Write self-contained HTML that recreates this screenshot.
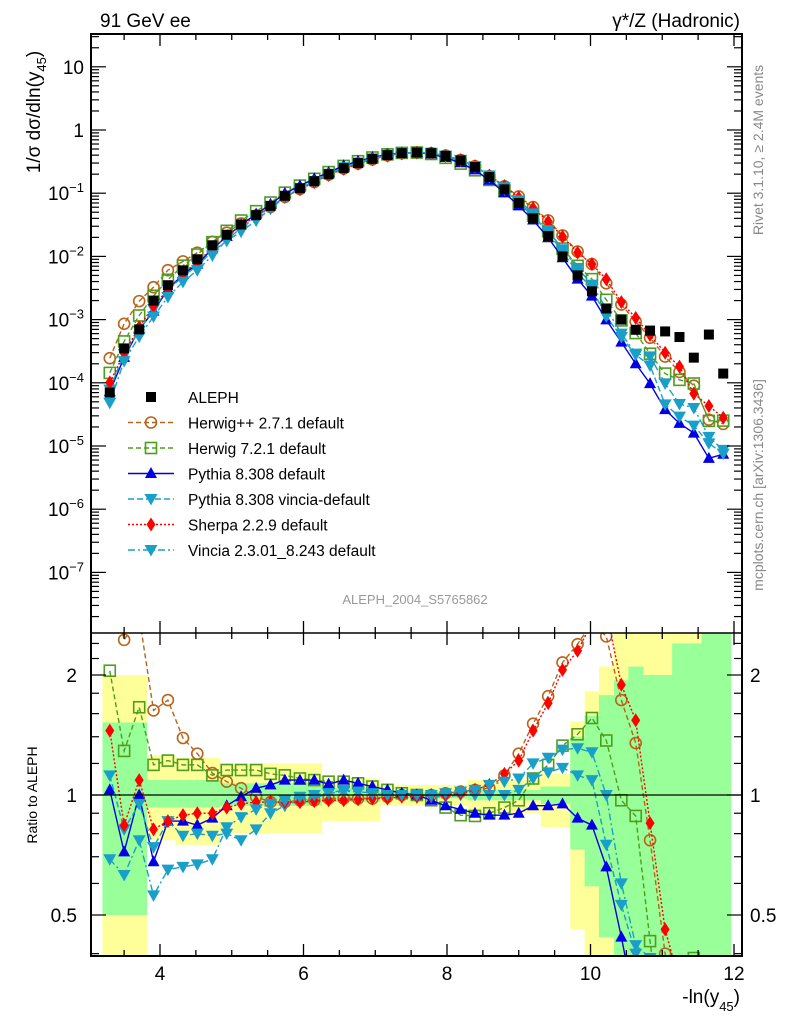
<!DOCTYPE html>
<html><head><meta charset="utf-8"><style>
html,body{margin:0;padding:0;background:#fff;width:786px;height:1024px;overflow:hidden;}
svg{display:block;font-family:"Liberation Sans",sans-serif;}
</style></head><body>
<svg id="c" width="786" height="1024" viewBox="0 0 786 1024" xmlns="http://www.w3.org/2000/svg">
<defs>
<clipPath id="clipTop"><rect x="91" y="34" width="651" height="599"/></clipPath>
<clipPath id="clipBot"><rect x="91" y="633" width="651" height="323"/></clipPath>
</defs>
<g id="bands" clip-path="url(#clipBot)"></g>
<g id="topSeries" clip-path="url(#clipTop)"></g>
<g id="botSeries" clip-path="url(#clipBot)"></g>
<g id="axes"></g>
<text x="100" y="27" font-size="19">91 GeV ee</text>
<text x="740" y="27" font-size="19" text-anchor="end">γ*/Z (Hadronic)</text>
<text transform="translate(763,150) rotate(-90)" font-size="14" fill="#888" text-anchor="middle">Rivet 3.1.10, ≥ 2.4M events</text>
<text transform="translate(763,485) rotate(-90)" font-size="14" fill="#888" text-anchor="middle">mcplots.cern.ch [arXiv:1306.3436]</text>
<text transform="translate(40,112) rotate(-90)" font-size="19" text-anchor="middle">1/σ  dσ/dln(y<tspan font-size="13" dy="6">45</tspan><tspan dy="-6">)</tspan></text>
<text transform="translate(37,795) rotate(-90)" font-size="14" text-anchor="middle">Ratio to ALEPH</text>
<text x="415" y="604" font-size="13" fill="#999" text-anchor="middle">ALEPH_2004_S5765862</text>
<text x="740" y="1003" font-size="19" text-anchor="end">-ln(y<tspan font-size="13" dy="8">45</tspan><tspan dy="-8">)</tspan></text>
<g id="legend"></g>
</svg>
<script>
const binCenters=[3.30,3.50,3.71,3.91,4.11,4.32,4.52,4.73,4.93,5.13,5.34,5.54,5.74,5.95,6.15,6.35,6.56,6.76,6.96,7.17,7.37,7.58,7.78,7.98,8.19,8.39,8.59,8.80,9.00,9.20,9.41,9.61,9.82,10.02,10.22,10.43,10.63,10.83,11.04,11.24,11.44,11.65,11.85];
const binHalfWidth=0.102;
const alephValues=[7e-5,3.5e-4,7e-4,2.0e-3,3.5e-3,6e-3,9e-3,1.5e-2,2.2e-2,3.2e-2,4.5e-2,6.3e-2,9.1e-2,0.12,0.155,0.2,0.25,0.3,0.35,0.4,0.43,0.44,0.43,0.39,0.33,0.26,0.18,0.115,0.07,0.04,0.021,0.01,5e-3,2.8e-3,1.5e-3,1e-3,6.9e-4,6.7e-4,6.5e-4,5.3e-4,2.5e-4,5.8e-4,1.4e-4];
const ratioHerwigPP=[3.5,2.45,2.8,1.63,1.73,1.39,1.27,1.135,1.08,1.04,0.99,0.96,0.96,0.97,0.97,0.98,0.98,0.98,0.98,0.99,1.0,1.0,1.0,1.01,1.02,1.03,1.04,1.12,1.27,1.51,1.77,2.15,2.39,2.7,2.5,1.73,1.35,0.77,0.4,0.28,0.36,0.045,0.16];
const ratioHerwig7=[2.05,1.29,1.66,1.19,1.22,1.19,1.19,1.12,1.155,1.155,1.155,1.13,1.12,1.1,1.09,1.08,1.08,1.07,1.05,1.03,1.01,1.0,0.97,0.93,0.89,0.886,0.9,0.93,0.97,1.1,1.19,1.33,1.42,1.56,1.37,0.97,0.886,0.43,0.215,0.21,0.39,0.043,0.18];
const ratioPythia=[1.03,0.72,1.0,0.68,0.86,0.86,0.84,0.875,0.94,0.99,1.04,1.06,1.09,1.09,1.09,1.065,1.09,1.07,1.05,1.03,1.01,1.0,0.97,0.94,0.92,0.9,0.89,0.89,0.9,0.94,0.94,0.95,0.875,0.84,0.66,0.44,0.29,0.145,0.058,0.043,0.064,0.011,0.053];
const ratioPythiaVincia=[1.12,0.82,0.95,0.74,0.86,0.79,0.80,0.79,0.80,0.77,0.82,0.90,0.94,0.97,0.98,1.01,1.03,1.02,1.01,1.0,1.0,1.0,0.99,0.99,1.0,1.0,1.0,1.0,1.03,1.1,1.14,1.17,1.12,1.09,0.75,0.53,0.4,0.28,0.07,0.055,0.084,0.019,0.054];
const ratioSherpa=[1.45,0.84,1.09,0.82,0.86,0.89,0.9,0.9,0.93,0.95,0.96,0.96,0.96,0.96,0.965,0.97,0.97,0.975,0.98,0.98,0.99,0.99,1.0,1.0,1.01,1.03,1.06,1.13,1.22,1.45,1.7,2.06,2.3,2.7,2.9,1.89,1.54,0.85,0.46,0.34,0.27,0.074,0.2];
const ratioVincia=[0.69,0.63,0.77,0.56,0.65,0.66,0.67,0.69,0.83,0.88,0.92,0.95,0.97,0.99,1.0,1.01,1.02,1.02,1.01,1.0,1.0,1.0,1.0,1.01,1.02,1.03,1.06,1.08,1.1,1.2,1.24,1.3,1.31,1.28,1.0,0.6,0.42,0.39,0.15,0.087,0.16,0.024,0.062];
const yellowHi=[2.0,2.0,2.0,1.26,1.26,1.24,1.24,1.24,1.2,1.2,1.2,1.2,1.2,1.2,1.2,1.1,1.1,1.1,1.1,1.06,1.06,1.06,1.06,1.06,1.06,1.09,1.09,1.09,1.09,1.09,1.13,1.13,1.53,1.82,2.1,3,3,3,3,3,3,3,3];
const yellowLo=[0.3,0.3,0.3,0.77,0.77,0.75,0.75,0.75,0.8,0.8,0.8,0.8,0.8,0.8,0.8,0.86,0.86,0.86,0.86,0.94,0.94,0.94,0.94,0.94,0.94,0.9,0.9,0.9,0.9,0.9,0.83,0.83,0.46,0.3,0.3,0.3,0.3,0.3,0.3,0.3,0.3,0.3,0.3];
const greenHi=[1.52,1.52,1.52,1.09,1.09,1.09,1.09,1.09,1.07,1.07,1.07,1.07,1.07,1.07,1.07,1.04,1.04,1.04,1.04,1.02,1.02,1.02,1.02,1.02,1.02,1.03,1.03,1.03,1.03,1.03,1.05,1.05,1.4,1.58,1.78,1.94,2.1,2.0,2.0,2.4,2.4,3,3];
const greenLo=[0.5,0.5,0.5,0.93,0.93,0.93,0.93,0.93,0.94,0.94,0.94,0.94,0.94,0.94,0.94,0.96,0.96,0.96,0.96,0.98,0.98,0.98,0.98,0.98,0.98,0.97,0.97,0.97,0.97,0.97,0.95,0.95,0.73,0.59,0.44,0.3,0.3,0.3,0.3,0.3,0.3,0.3,0.3];

const NS="http://www.w3.org/2000/svg";
const X0=91,X1=742,TOP0=34,TOP1=633,BOT1=956;
function xs(x){return 160+(x-4)*71.75;}
function yTop(v){return 66.8+(1-Math.log10(v))*63.2;}
function yRat(r){return 795-120*Math.log2(r);}
function mk(tag,attrs,parent){const e=document.createElementNS(NS,tag);for(const k in attrs)e.setAttribute(k,attrs[k]);parent.appendChild(e);return e;}

const bands=document.getElementById('bands');
binCenters.forEach((c,i)=>{
  const xa=xs(c-binHalfWidth),xb=xs(c+binHalfWidth);
  const y1=yRat(yellowHi[i]),y2=yRat(yellowLo[i]);
  const r=mk('rect',{x:xa,y:y1,width:xb-xa+0.6,height:y2-y1,fill:'#ffff99'},bands);
  
  
});
binCenters.forEach((c,i)=>{
  const xa=xs(c-binHalfWidth),xb=xs(c+binHalfWidth);
  const y1=yRat(greenHi[i]),y2=yRat(greenLo[i]);
  const r=mk('rect',{x:xa,y:y1,width:xb-xa+0.6,height:y2-y1,fill:'#99ff99'},bands);
  
  
});

function marker(g,type,x,y,color){
  let e;
  if(type==='circle') e=mk('circle',{cx:x,cy:y,r:5.5,fill:'none',stroke:color,'stroke-width':1.6},g);
  else if(type==='square') e=mk('rect',{x:x-5.5,y:y-5.5,width:11,height:11,fill:'none',stroke:color,'stroke-width':1.6},g);
  else if(type==='up') e=mk('polygon',{points:`${x},${y-6.5} ${x-6},${y+4.5} ${x+6},${y+4.5}`,fill:color},g);
  else if(type==='down') e=mk('polygon',{points:`${x},${y+6.5} ${x-6.5},${y-5} ${x+6.5},${y-5}`,fill:color},g);
  else if(type==='diamond') e=mk('polygon',{points:`${x},${y-7} ${x+4.5},${y} ${x},${y+7} ${x-4.5},${y}`,fill:color},g);
  else if(type==='bsquare') e=mk('rect',{x:x-5,y:y-5,width:10,height:10,fill:'#000'},g);
  return e;
}
const series=[
  {name:'herwigpp',ratios:ratioHerwigPP,color:'#b8631a',marker:'circle',dash:'5,3'},
  {name:'herwig7',ratios:ratioHerwig7,color:'#4d9e1f',marker:'square',dash:'5,3'},
  {name:'pythia',ratios:ratioPythia,color:'#0000e6',marker:'up',dash:''},
  {name:'pythia-vincia',ratios:ratioPythiaVincia,color:'#1aa0c8',marker:'down',dash:'6,3'},
  {name:'sherpa',ratios:ratioSherpa,color:'#ff0000',marker:'diamond',dash:'2,2'},
  {name:'vincia',ratios:ratioVincia,color:'#1aa0c8',marker:'down',dash:'7,3,2,3'}
];
const topG=document.getElementById('topSeries'),botG=document.getElementById('botSeries');
series.forEach(s=>{
  const tg=mk('g',{},topG);
  
  
  const bg=mk('g',{},botG);
  
  
  const ptsT=binCenters.map((c,i)=>[xs(c),yTop(alephValues[i]*s.ratios[i])]);
  const ptsB=binCenters.map((c,i)=>[xs(c),yRat(s.ratios[i])]);
  const lt=mk('polyline',{points:ptsT.map(p=>p.join(',')).join(' '),fill:'none',stroke:s.color,'stroke-width':1.4,'stroke-dasharray':s.dash},tg);
  
  
  const lb=mk('polyline',{points:ptsB.map(p=>p.join(',')).join(' '),fill:'none',stroke:s.color,'stroke-width':1.4,'stroke-dasharray':s.dash},bg);
  
  
  ptsT.forEach(p=>{const m=marker(tg,s.marker,p[0],p[1],s.color);
    
    });
  ptsB.forEach(p=>{const m=marker(bg,s.marker,p[0],p[1],s.color);
    
    });
});
const dg=mk('g',{},topG);


binCenters.forEach((c,i)=>{const m=marker(dg,'bsquare',xs(c),yTop(alephValues[i]),'#000');
  
  });

const ax=document.getElementById('axes');
mk('rect',{x:X0,y:TOP0,width:X1-X0,height:BOT1-TOP0,fill:'none',stroke:'#000','stroke-width':2},ax);
mk('line',{x1:X0,y1:TOP1,x2:X1,y2:TOP1,stroke:'#000','stroke-width':1.5},ax);
mk('line',{x1:X0,y1:795,x2:X1,y2:795,stroke:'#000','stroke-width':1.2},ax);
for(let x=3.5;x<=12.01;x+=0.5){
  const px=xs(x),maj=Math.abs(x-Math.round(x/2)*2)<0.01;
  const L=maj?12:6;
  [[TOP0,1],[TOP1,-1],[TOP1,1],[BOT1,-1]].forEach(([y,d])=>mk('line',{x1:px,y1:y,x2:px,y2:y+d*L,stroke:'#000','stroke-width':1.3},ax));
}
const xTickLabels=['4','6','8','10','12'];
xTickLabels.forEach(t=>{const e=mk('text',{x:xs(+t),y:980,'font-size':19,'text-anchor':'middle'},ax);e.textContent=t;
  
  });
for(let d=-8;d<=1;d++){
  for(let k=1;k<=9;k++){
    const v=k*Math.pow(10,d),py=yTop(v);
    if(py<TOP0||py>TOP1)continue;
    const L=k===1?15:8;
    mk('line',{x1:X0,y1:py,x2:X0+L,y2:py,stroke:'#000','stroke-width':1.2},ax);
    mk('line',{x1:X1,y1:py,x2:X1-L,y2:py,stroke:'#000','stroke-width':1.2},ax);
  }
}
const yTickExps=[1,0,-1,-2,-3,-4,-5,-6,-7];
yTickExps.forEach(e=>{
  const t=mk('text',{x:84,y:yTop(Math.pow(10,e))+7,'font-size':19,'text-anchor':'end'},ax);
  
  
  if(e===1)t.textContent='10';else if(e===0)t.textContent='1';
  else{t.textContent='10';const s=mk('tspan',{dy:-8,'font-size':13},t);s.textContent='−'+(-e);}
});
const ratioMinor=[0.4,0.6,0.7,0.8,0.9,1.2,1.4,1.6,1.8,2.2,2.4];
const ratioMajor=[0.5,1,2];
ratioMinor.forEach(r=>{const py=yRat(r);
  mk('line',{x1:X0,y1:py,x2:X0+8,y2:py,stroke:'#000','stroke-width':1.2},ax);
  mk('line',{x1:X1,y1:py,x2:X1-8,y2:py,stroke:'#000','stroke-width':1.2},ax);});
ratioMajor.forEach(r=>{const py=yRat(r);
  mk('line',{x1:X0,y1:py,x2:X0+15,y2:py,stroke:'#000','stroke-width':1.2},ax);
  mk('line',{x1:X1,y1:py,x2:X1-15,y2:py,stroke:'#000','stroke-width':1.2},ax);
  const a=mk('text',{x:77,y:py+7,'font-size':19,'text-anchor':'end'},ax);a.textContent=String(r);
  
  
  const b=mk('text',{x:750,y:py+7,'font-size':19},ax);b.textContent=String(r);
  
  });

const lg=document.getElementById('legend');
const legendLabels=['ALEPH','Herwig++ 2.7.1 default','Herwig 7.2.1 default','Pythia 8.308 default','Pythia 8.308 vincia-default','Sherpa 2.2.9 default','Vincia 2.3.01_8.243 default'];
legendLabels.forEach((lab,i)=>{
  const y=397+i*25.5;
  const g=mk('g',{},lg);
  
  
  if(i===0){marker(g,'bsquare',151,y,'#000');}
  else{const s=series[i-1];
    mk('line',{x1:128,y1:y,x2:174,y2:y,stroke:s.color,'stroke-width':1.4,'stroke-dasharray':s.dash},g);
    marker(g,s.marker,151,y,s.color);}
  const t=mk('text',{x:188,y:y+6,'font-size':15.5},g);t.textContent=lab;
});
</script>
</body></html>
